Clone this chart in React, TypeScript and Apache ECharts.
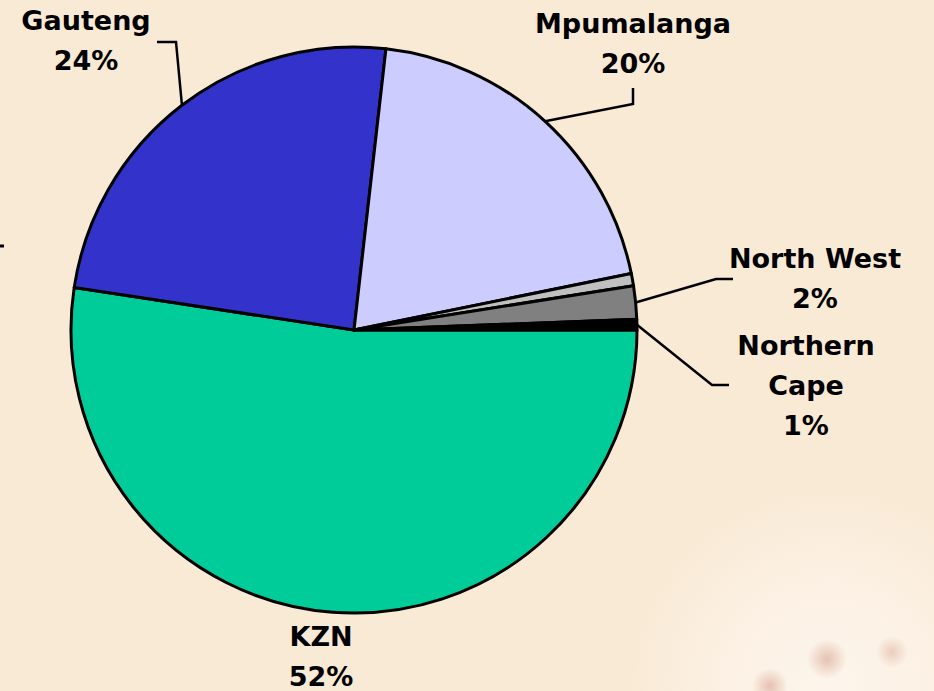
import React, { useEffect, useRef } from 'react';
import * as echarts from 'echarts';

// ---- data ----
const categories = ['KZN', 'Gauteng', 'Mpumalanga', 'Other', 'North West', 'Northern Cape'];
const shares = [52.4, 24.4, 20.0, 0.7, 1.9, 0.6];
const sliceColors = ['#00CC99', '#3333CC', '#CCCCFF', '#C0C0C0', '#808080', '#000000'];
const labelNames = ['KZN', 'Gauteng', 'Mpumalanga', '', 'North West', 'Northern\nCape'];

// ---- layout (label block centres and leader elbows) ----
const labelAnchors: Record<string, [number, number]> = {
  KZN: [321, 656],
  Gauteng: [86, 40],
  Mpumalanga: [633, 43],
  'North West': [815, 278],
  'Northern Cape': [806, 385],
};
const leaderElbows: Record<string, number[][]> = {
  Gauteng: [[176, 42], [157, 42]],
  Mpumalanga: [[633, 104], [633, 88]],
  'North West': [[716, 279], [733, 279]],
  'Northern Cape': [[712, 385], [729, 385]],
};

const blob = (cx: number, cy: number, r: number, a: number) => ({
  type: 'circle',
  silent: true,
  z: -4,
  shape: { cx, cy, r },
  style: {
    fill: {
      type: 'radial', x: 0.5, y: 0.5, r: 0.5,
      colorStops: [
        { offset: 0, color: `rgba(214,160,140,${a})` },
        { offset: 1, color: 'rgba(214,160,140,0)' },
      ],
    },
  },
});

export default function App() {
  const ref = useRef<HTMLDivElement>(null);

  useEffect(() => {
    document.body.style.margin = '0';
    document.body.style.background = '#F9EAD6';
    if (!ref.current) return;
    const chart = echarts.init(ref.current, undefined, { renderer: 'svg' });

    const data = categories.map((name, i) => ({
      name,
      value: shares[i],
      itemStyle: { color: sliceColors[i] },
      label: { show: !!labelNames[i] },
      labelLine: { show: !!leaderElbows[name] },
    }));

    chart.setOption({
      animation: false,
      backgroundColor: '#F9EAD6',
      graphic: [
        {
          type: 'circle',
          silent: true,
          z: -5,
          shape: { cx: 830, cy: 690, r: 200 },
          style: {
            fill: {
              type: 'radial', x: 0.5, y: 0.5, r: 0.5,
              colorStops: [
                { offset: 0, color: 'rgba(253,245,236,1)' },
                { offset: 0.55, color: 'rgba(252,242,230,0.8)' },
                { offset: 1, color: 'rgba(252,242,230,0)' },
              ],
            },
          },
        },
        blob(827, 659, 20, 0.6),
        blob(770, 686, 18, 0.6),
        blob(892, 652, 16, 0.45),
        {
          type: 'line',
          silent: true,
          shape: { x1: 0, y1: 246, x2: 4, y2: 246 },
          style: { stroke: '#000', lineWidth: 3 },
        },
      ],
      series: [
        {
          type: 'pie',
          center: [354, 330],
          radius: 283,
          startAngle: 0,
          clockwise: true,
          avoidLabelOverlap: false,
          itemStyle: { borderColor: '#000', borderWidth: 3 },
          label: {
            show: true,
            position: 'outside',
            color: '#000',
            fontFamily: 'DejaVu Sans',
            fontWeight: 'bold',
            fontSize: 27,
            lineHeight: 40,
            align: 'center',
            formatter: (p: any) => `${labelNames[p.dataIndex]}\n${Math.round(p.percent)}%`,
          },
          labelLine: {
            show: true,
            length: 20,
            length2: 20,
            lineStyle: { color: '#000', width: 2.5 },
          },
          labelLayout: (p: any) => {
            const name = categories[p.dataIndex];
            const a = labelAnchors[name];
            if (!a) return {};
            const res: any = {
              x: a[0],
              y: a[1],
              align: 'center',
              verticalAlign: 'middle',
              hideOverlap: false,
            };
            const elbow = leaderElbows[name];
            if (elbow && p.labelLinePoints) {
              res.labelLinePoints = [p.labelLinePoints[0], ...elbow];
            }
            return res;
          },
          emphasis: { disabled: true },
          data,
        },
      ],
    });

    return () => chart.dispose();
  }, []);

  return <div ref={ref} style={{ width: 934, height: 691 }} />;
}
